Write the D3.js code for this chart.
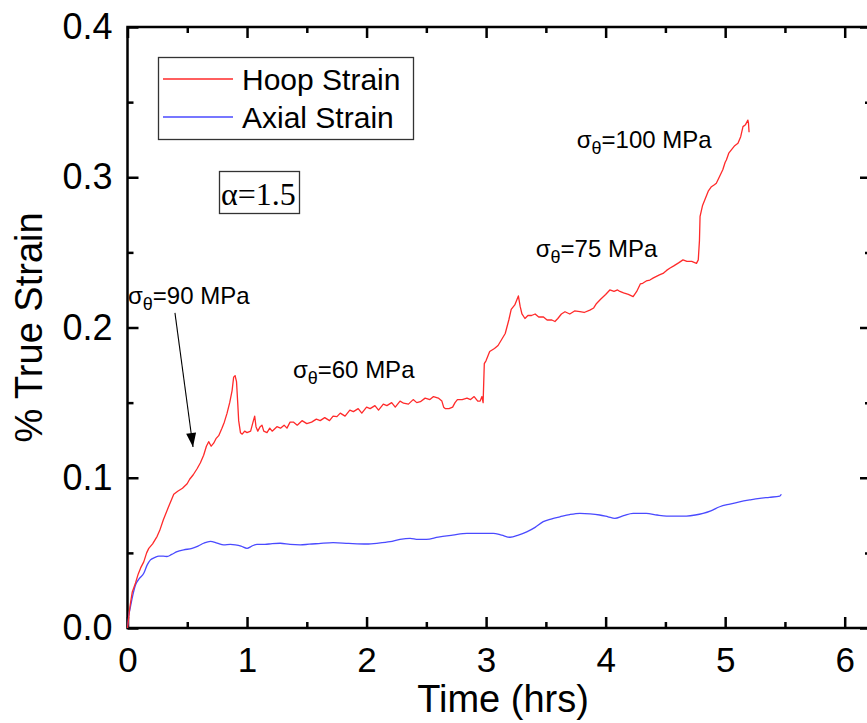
<!DOCTYPE html>
<html><head><meta charset="utf-8">
<script src="https://cdn.jsdelivr.net/npm/d3@7"></script>
<style>body{margin:0;background:#fff}svg{display:block}</style>
</head><body>
<svg id="c" width="867" height="723"></svg>
<script>
// ---- data ----
const hoopTime = [0,0.02,0.04,0.067,0.09,0.11,0.136,0.16,0.178,0.21,0.248,0.27,0.30,0.34,0.387,0.42,0.46,0.499,0.52,0.55,0.582,0.61,0.637,0.66,0.679,0.70,0.721,0.74,0.763,0.79,0.81,0.833,0.855,0.875,0.888,0.90,0.912,0.922,0.93,0.945,0.96,0.98,1.00,1.03,1.05,1.064,1.075,1.09,1.11,1.125,1.14,1.167,1.19,1.21,1.25,1.28,1.31,1.334,1.36,1.39,1.42,1.46,1.50,1.54,1.58,1.612,1.65,1.69,1.72,1.752,1.78,1.82,1.86,1.89,1.93,1.96,2.00,2.03,2.07,2.10,2.14,2.17,2.21,2.24,2.28,2.31,2.35,2.39,2.42,2.45,2.49,2.53,2.56,2.60,2.63,2.645,2.66,2.69,2.72,2.74,2.76,2.80,2.84,2.87,2.90,2.93,2.95,2.965,2.975,2.985,3.00,3.03,3.07,3.10,3.13,3.16,3.19,3.21,3.24,3.27,3.285,3.30,3.325,3.35,3.38,3.41,3.44,3.48,3.51,3.55,3.576,3.60,3.63,3.66,3.70,3.74,3.785,3.82,3.868,3.90,3.924,3.96,4.00,4.035,4.07,4.10,4.119,4.15,4.19,4.23,4.26,4.29,4.31,4.34,4.37,4.40,4.45,4.48,4.51,4.536,4.57,4.61,4.647,4.68,4.72,4.76,4.775,4.785,4.79,4.81,4.84,4.86,4.885,4.91,4.926,4.95,4.98,5.00,5.01,5.03,5.05,5.08,5.107,5.13,5.149,5.17,5.19,5.195,5.2];
const hoopStrain = [0,0.014,0.024,0.030,0.036,0.040,0.044,0.050,0.053,0.056,0.061,0.065,0.072,0.080,0.089,0.091,0.093,0.096,0.099,0.102,0.106,0.110,0.115,0.121,0.124,0.121,0.123,0.126,0.128,0.133,0.137,0.143,0.150,0.158,0.167,0.168,0.164,0.150,0.138,0.130,0.129,0.131,0.130,0.131,0.137,0.141,0.134,0.131,0.134,0.135,0.131,0.130,0.133,0.131,0.134,0.133,0.135,0.133,0.137,0.137,0.135,0.138,0.136,0.137,0.139,0.138,0.140,0.138,0.141,0.1407,0.143,0.141,0.145,0.144,0.146,0.143,0.147,0.146,0.148,0.145,0.149,0.148,0.150,0.147,0.151,0.1496,0.149,0.152,0.150,0.1506,0.153,0.152,0.154,0.153,0.151,0.147,0.146,0.146,0.147,0.150,0.152,0.152,0.153,0.152,0.154,0.151,0.151,0.154,0.150,0.176,0.178,0.184,0.186,0.188,0.192,0.196,0.205,0.212,0.215,0.221,0.214,0.209,0.206,0.208,0.208,0.209,0.207,0.207,0.205,0.205,0.204,0.206,0.209,0.2105,0.209,0.211,0.2105,0.210,0.2116,0.213,0.216,0.219,0.222,0.225,0.224,0.225,0.224,0.223,0.222,0.2205,0.224,0.229,0.2294,0.231,0.2316,0.233,0.235,0.236,0.238,0.2394,0.241,0.243,0.245,0.244,0.244,0.2427,0.245,0.258,0.274,0.281,0.287,0.291,0.2937,0.295,0.296,0.300,0.305,0.310,0.3115,0.316,0.318,0.321,0.3226,0.327,0.3337,0.335,0.338,0.336,0.330];
const axialTime = [0,0.01,0.025,0.045,0.067,0.10,0.136,0.165,0.192,0.23,0.262,0.30,0.33,0.37,0.415,0.47,0.54,0.59,0.637,0.693,0.75,0.805,0.86,0.902,0.95,1.0,1.04,1.083,1.15,1.21,1.278,1.36,1.445,1.52,1.60,1.72,1.85,2.0,2.1,2.197,2.28,2.364,2.43,2.50,2.6,2.72,2.84,2.95,3.06,3.13,3.20,3.27,3.34,3.41,3.478,3.55,3.617,3.70,3.785,3.87,3.95,4.02,4.077,4.15,4.23,4.34,4.43,4.51,4.60,4.676,4.75,4.815,4.88,4.954,5.04,5.12,5.21,5.29,5.37,5.457,5.47];
const axialStrain = [0,0.008,0.0142,0.022,0.0286,0.033,0.0364,0.042,0.0453,0.047,0.0478,0.0478,0.0476,0.049,0.0508,0.052,0.053,0.0545,0.0564,0.0577,0.0565,0.0553,0.0556,0.0553,0.0545,0.053,0.0545,0.0557,0.0556,0.0562,0.0564,0.0556,0.0553,0.0558,0.0562,0.0568,0.0563,0.0559,0.0565,0.0575,0.059,0.0597,0.059,0.059,0.0605,0.0618,0.063,0.063,0.063,0.0618,0.0604,0.0618,0.064,0.067,0.0708,0.0727,0.074,0.0755,0.0763,0.076,0.0752,0.074,0.073,0.0748,0.0763,0.0763,0.0752,0.0745,0.0744,0.0745,0.0752,0.0763,0.078,0.0807,0.0825,0.084,0.0853,0.0863,0.087,0.0878,0.089];
const seriesNames = ["Hoop Strain","Axial Strain"];
const seriesColors = ["#ff2a2a","#4a4aff"];
const xTicks = [0,1,2,3,4,5,6];
const yTicks = [0.0,0.1,0.2,0.3,0.4];
const annotations = [
  {t:0.004, s:0.2157, label:"=90 MPa"},
  {t:1.384, s:0.1664, label:"=60 MPa"},
  {t:3.415, s:0.2469, label:"=75 MPa"},
  {t:3.758, s:0.3195, label:"=100 MPa"}
];
const arrowFrom = {t:0.397, s:0.2097};
const arrowTo = {t:0.548, s:0.1205};

// ---- layout ----
const svg = d3.select("#c");
const L = 127.5, R = 871, T = 27, B = 628;
const x = d3.scaleLinear().domain([0, 6.22]).range([L, R]);
const y = d3.scaleLinear().domain([0, 0.4]).range([B, T]);
const font = "'Liberation Sans', Arial, sans-serif";

function styleAxis(g, size){
  g.select(".domain").remove();
  g.selectAll("line").attr("stroke","#000").attr("stroke-width",2.5);
  g.selectAll("text").attr("font-family",font).attr("font-size",size).attr("fill","#000");
}
const xMinor = d3.range(0.5, 6.2, 1);
const yMinor = [0.05,0.15,0.25,0.35];

// bottom
svg.append("g").attr("transform",`translate(0,${B})`)
  .call(d3.axisBottom(x).tickValues(xTicks).tickFormat(d3.format("d")).tickSize(-11).tickSizeOuter(0).tickPadding(19))
  .call(g=>styleAxis(g,35));
svg.append("g").attr("transform",`translate(0,${B})`)
  .call(d3.axisBottom(x).tickValues(xMinor).tickFormat("").tickSize(-6).tickSizeOuter(0))
  .call(g=>styleAxis(g,35));
// top
svg.append("g").attr("transform",`translate(0,${T})`)
  .call(d3.axisTop(x).tickValues(xTicks).tickFormat("").tickSize(-11).tickSizeOuter(0))
  .call(g=>styleAxis(g,35));
svg.append("g").attr("transform",`translate(0,${T})`)
  .call(d3.axisTop(x).tickValues(xMinor).tickFormat("").tickSize(-6).tickSizeOuter(0))
  .call(g=>styleAxis(g,35));
// left
svg.append("g").attr("transform",`translate(${L},0)`)
  .call(d3.axisLeft(y).tickValues(yTicks).tickFormat(d3.format(".1f")).tickSize(-11).tickSizeOuter(0).tickPadding(15))
  .call(g=>styleAxis(g,36));
svg.append("g").attr("transform",`translate(${L},0)`)
  .call(d3.axisLeft(y).tickValues(yMinor).tickFormat("").tickSize(-6).tickSizeOuter(0))
  .call(g=>styleAxis(g,35));
// right
svg.append("g").attr("transform",`translate(${R},0)`)
  .call(d3.axisRight(y).tickValues(yTicks).tickFormat("").tickSize(-11).tickSizeOuter(0))
  .call(g=>styleAxis(g,35));
svg.append("g").attr("transform",`translate(${R},0)`)
  .call(d3.axisRight(y).tickValues(yMinor).tickFormat("").tickSize(-6).tickSizeOuter(0))
  .call(g=>styleAxis(g,35));

// frame
svg.append("rect").attr("x",L).attr("y",T).attr("width",R-L).attr("height",B-T)
  .attr("fill","none").attr("stroke","#000").attr("stroke-width",2.5);

// lines
const hoop = hoopTime.map((t,i)=>({t, s:hoopStrain[i]}));
const axial = axialTime.map((t,i)=>({t, s:axialStrain[i]}));
svg.append("path").datum(axial)
  .attr("d", d3.line().x(d=>x(d.t)).y(d=>y(d.s)).curve(d3.curveMonotoneX))
  .attr("fill","none").attr("stroke",seriesColors[1]).attr("stroke-width",1.3);
svg.append("path").datum(hoop)
  .attr("d", d3.line().x(d=>x(d.t)).y(d=>y(d.s)))
  .attr("fill","none").attr("stroke",seriesColors[0]).attr("stroke-width",1.3).attr("stroke-linejoin","round");

// axis titles
svg.append("text").attr("x",503).attr("y",712).attr("text-anchor","middle")
  .attr("font-family",font).attr("font-size",38).text("Time (hrs)");
svg.append("text").attr("transform",`translate(42,${(T+B)/2}) rotate(-90)`).attr("text-anchor","middle")
  .attr("font-family",font).attr("font-size",38).text("% True Strain");

// legend
const lg = svg.append("g");
lg.append("rect").attr("x",158.5).attr("y",57.5).attr("width",255).attr("height",82)
  .attr("fill","#fff").attr("stroke","#333").attr("stroke-width",1.3);
seriesNames.forEach((n,i)=>{
  const yy = 79 + i*38;
  lg.append("line").attr("x1",163).attr("x2",233).attr("y1",yy).attr("y2",yy)
    .attr("stroke",seriesColors[i]).attr("stroke-width",1.3);
  lg.append("text").attr("x",242).attr("y",yy+11).attr("font-family",font).attr("font-size",30).text(n);
});

// alpha box
svg.append("rect").attr("x",219.5).attr("y",171.5).attr("width",80).attr("height",42)
  .attr("fill","#fff").attr("stroke","#333").attr("stroke-width",1.3);
svg.append("text").attr("x",221).attr("y",205).attr("font-family","'Liberation Serif','Times New Roman',serif")
  .attr("font-size",32).text("α=1.5");

// annotations
annotations.forEach(a=>{
  const t = svg.append("text").attr("x",x(a.t)).attr("y",y(a.s))
    .attr("font-family",font).attr("font-size",24).attr("fill","#000");
  t.append("tspan").text("σ");
  t.append("tspan").attr("dy",6).attr("font-size",18).text("θ");
  t.append("tspan").attr("dy",-6).text(a.label);
});

// arrow
svg.append("defs").append("marker").attr("id","ah").attr("viewBox","0 0 14 10")
  .attr("refX",14).attr("refY",5).attr("markerWidth",15).attr("markerHeight",10)
  .attr("markerUnits","userSpaceOnUse").attr("orient","auto")
  .append("path").attr("d","M0,0 L14,5 L0,10 Z").attr("fill","#000");
svg.append("line").attr("x1",x(arrowFrom.t)).attr("y1",y(arrowFrom.s))
  .attr("x2",x(arrowTo.t)).attr("y2",y(arrowTo.s))
  .attr("stroke","#000").attr("stroke-width",1.1).attr("marker-end","url(#ah)");
</script>
</body></html>
